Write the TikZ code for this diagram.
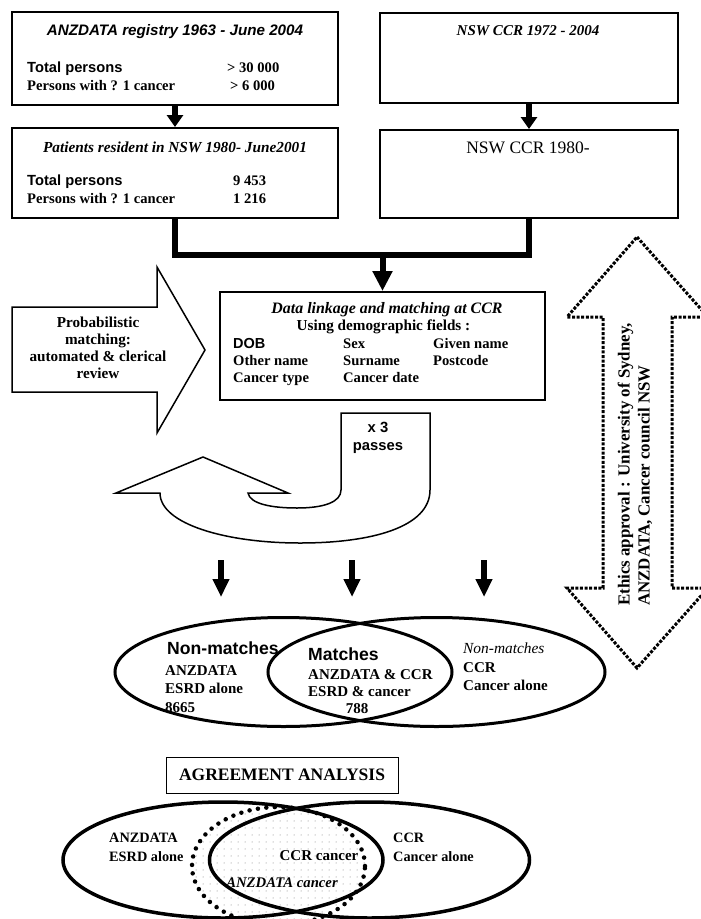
\documentclass[tikz,border=0pt]{standalone}
\usepackage{fontspec}
\setmainfont{Liberation Serif}
\setsansfont{Liberation Sans}
\usetikzlibrary{arrows.meta,patterns,calc}
\pgfdeclarepatternformonly{sparsedots}{\pgfqpoint{-1pt}{-1pt}}{\pgfqpoint{1pt}{1pt}}{\pgfqpoint{7pt}{7pt}}{\pgfpathcircle{\pgfqpoint{0pt}{0pt}}{0.5pt}\pgfusepath{fill}}
\begin{document}
\begin{tikzpicture}[x=1pt,y=-1pt,line join=miter,
  box/.style={draw,line width=2pt,inner sep=0pt},
  conn/.style={line width=5.5pt},
  arrA/.style={line width=5.5pt,-{Triangle[length=12pt,width=16pt]}},
  arrB/.style={line width=6pt,-{Triangle[length=20pt,width=19pt]}},
  arrC/.style={line width=6pt,-{Triangle[length=18pt,width=16pt]}},
  shapeline/.style={draw,line width=1.5pt,line join=miter},
  tx/.style={inner sep=0pt,anchor=base west},
  tc/.style={inner sep=0pt,anchor=base},
  sb/.style={font=\fontsize{14.7}{17}\selectfont\sffamily\bfseries},
  sbi/.style={font=\fontsize{15.2}{17}\selectfont\sffamily\bfseries\itshape},
  rb/.style={font=\fontsize{14.6}{17}\selectfont\bfseries},
  rbi/.style={font=\fontsize{15.3}{17}\selectfont\bfseries\itshape},
  fb/.style={font=\fontsize{14.6}{17}\selectfont\bfseries},
  bigsans/.style={font=\fontsize{17.6}{19}\selectfont\sffamily\bfseries},
  vb/.style={font=\fontsize{15}{17.5}\selectfont\bfseries},
  bv/.style={font=\fontsize{14.3}{17}\selectfont\bfseries},
  dotline/.style={line width=3pt,dash pattern=on 3pt off 1.6pt},
]
\clip (0,0) rectangle (701,919);
% ---------- top boxes ----------
\node[box,minimum width=326pt,minimum height=93pt] (box1) at (175,58.5) {};
\node[box,minimum width=326pt,minimum height=90pt] (box2) at (175,173) {};
\node[box,minimum width=298pt,minimum height=90pt] (box3) at (529,58) {};
\node[box,minimum width=298pt,minimum height=88pt] (box4) at (529,174) {};
\node[box,minimum width=325pt,minimum height=108pt] (data) at (382.5,346) {};

\node[tc,sbi] (t1) at (175,35) {ANZDATA registry 1963 - June 2004};
\node[tx,sb] (t1a) at (27,72) {Total persons};
\node[tx,rb] (t1b) at (227,72) {> 30 000};
\node[tx,rb] (t1c) at (27,90) {Persons with ? 1 cancer};
\node[tx,rb] (t1d) at (230,90) {> 6 000};

\node[tc,rbi] (t2) at (175,152) {Patients resident in NSW 1980- June2001};
\node[tx,sb] (t2a) at (27,185) {Total persons};
\node[tx,rb] (t2b) at (233,185) {9 453};
\node[tx,rb] (t2c) at (27,203) {Persons with ? 1 cancer};
\node[tx,rb] (t2d) at (233,203) {1 216};

\node[tc,font=\fontsize{15}{17}\selectfont\bfseries\itshape] (t3) at (528,35) {NSW CCR 1972 - 2004};
\node[tc,font=\fontsize{17.5}{20}\selectfont] (t4) at (528,153) {NSW CCR 1980-};

% ---------- connectors ----------
\draw[arrA] (box1.south) -- (box2.north);
\draw[arrA] (box3.south) -- (box4.north);
\coordinate (join) at (382.5,255);
\draw[conn] (box2.south) |- (join) -| (box4.south);
\draw[arrB] (join) -- (data.north);

% ---------- data linkage box text ----------
\node[tc,font=\fontsize{15.9}{17}\selectfont\bfseries\itshape] (d1) at (387,313) {Data linkage and matching at CCR};
\node[tc,font=\fontsize{15.2}{17}\selectfont\bfseries] (d2) at (383.5,330) {Using demographic fields :};
\node[tx,font=\fontsize{14.5}{17}\selectfont\sffamily\bfseries] (f1) at (233,348) {DOB};
\node[tx,fb] (f2) at (343,348) {Sex};
\node[tx,fb] (f3) at (433,348) {Given name};
\node[tx,fb] (f4) at (233,365) {Other name};
\node[tx,fb] (f5) at (343,365) {Surname};
\node[tx,fb] (f6) at (433,365) {Postcode};
\node[tx,fb] (f7) at (233,382) {Cancer type};
\node[tx,fb] (f8) at (343,382) {Cancer date};

% ---------- probabilistic matching arrow ----------
\path[shapeline] (12,307) -- (157,307) -- (157,267) -- (205,350) -- (157,433) -- (157,392) -- (12,392) -- cycle;
\node[inner sep=0pt,align=center,font=\fontsize{15.2}{17}\selectfont\bfseries] (prob) at (98,348) {Probabilistic\\matching:\\automated \& clerical\\review};

% ---------- U-turn arrow ----------
\path[shapeline] (341,413) -- (430,413) -- (430,490)
  .. controls (430,527) and (372,543) .. (300,543)
  .. controls (226,543) and (160,524) .. (160,493)
  -- (116,493) -- (203,457) -- (288,493) -- (248,493)
  .. controls (250,504) and (272,508) .. (297,508)
  .. controls (324,508) and (341,502) .. (341,490) -- cycle;
\node[inner sep=0pt,align=center,font=\fontsize{14.8}{18}\selectfont\sffamily\bfseries] (passes) at (378,438) {x 3\\passes};

% ---------- three down arrows ----------
\coordinate (s1) at (221,560); \coordinate (e1) at (221,597);
\coordinate (s2) at (352,560); \coordinate (e2) at (352,597);
\coordinate (s3) at (484,560); \coordinate (e3) at (484,597);
\draw[arrC] (s1) -- (e1);
\draw[arrC] (s2) -- (e2);
\draw[arrC] (s3) -- (e3);

% ---------- Venn 1 ----------
\draw[line width=3pt] (283.5,672) ellipse [x radius=168.5pt,y radius=54.5pt];
\draw[line width=3pt] (436.5,672) ellipse [x radius=168.5pt,y radius=54.5pt];
\node[tx,bigsans] (nm1) at (167,654) {Non-matches};
\node[tx,vb] (nm2) at (165,675) {ANZDATA};
\node[tx,vb] (nm3) at (165,693) {ESRD alone};
\node[tx,vb] (nm4) at (165,712) {8665};
\node[tx,bigsans] (m1) at (308,660) {Matches};
\node[tx,vb] (m2) at (308,679) {ANZDATA \& CCR};
\node[tx,vb] (m3) at (308,696) {ESRD \& cancer};
\node[tc,vb] (m4) at (357,713) {788};
\node[tx,font=\fontsize{15.4}{17}\selectfont\itshape] (r1) at (463,653) {Non-matches};
\node[tx,vb] (r2) at (463,672) {CCR};
\node[tx,vb] (r3) at (463,690) {Cancer alone};

% ---------- ethics double arrow ----------
\path[draw,dotline] (637,237) -- (708,317) -- (672,317) -- (672,588) -- (708,588) -- (637,668) -- (567,588) -- (603,588) -- (603,317) -- (567,317) -- cycle;
\node[inner sep=0pt,anchor=west,rotate=90,align=left,font=\fontsize{16.9}{20}\selectfont\bfseries] (ethics) at (635,606) {Ethics approval : University of Sydney,\\ANZDATA, Cancer council NSW};

% ---------- agreement analysis ----------
\node[draw,line width=1pt,minimum width=232pt,minimum height=36pt,inner sep=0pt,font=\fontsize{17.5}{19}\selectfont\bfseries] (agree) at (282,775) {AGREEMENT ANALYSIS};

\path[pattern=sparsedots,pattern color=black!55] (278.5,866) ellipse [x radius=86.5pt,y radius=59pt];
\draw[line width=3.5pt] (223,860) ellipse [x radius=160pt,y radius=58pt];
\draw[line width=3.5pt] (369.5,860) ellipse [x radius=160pt,y radius=58pt];
\draw[line width=4.5pt,dash pattern=on 0pt off 8.5pt,line cap=round] (278.5,866) ellipse [x radius=86.5pt,y radius=59pt];
\node[tx,bv] (b1) at (109,842) {ANZDATA};
\node[tx,bv] (b2) at (109,861) {ESRD alone};
\node[tc,font=\fontsize{15}{17}\selectfont\bfseries] (b3) at (319,860) {CCR cancer};
\node[tc,font=\fontsize{14.7}{17}\selectfont\bfseries\itshape] (b4) at (282,887) {ANZDATA cancer};
\node[tx,bv] (b5) at (393,842) {CCR};
\node[tx,bv] (b6) at (393,861) {Cancer alone};
\end{tikzpicture}
\end{document}
